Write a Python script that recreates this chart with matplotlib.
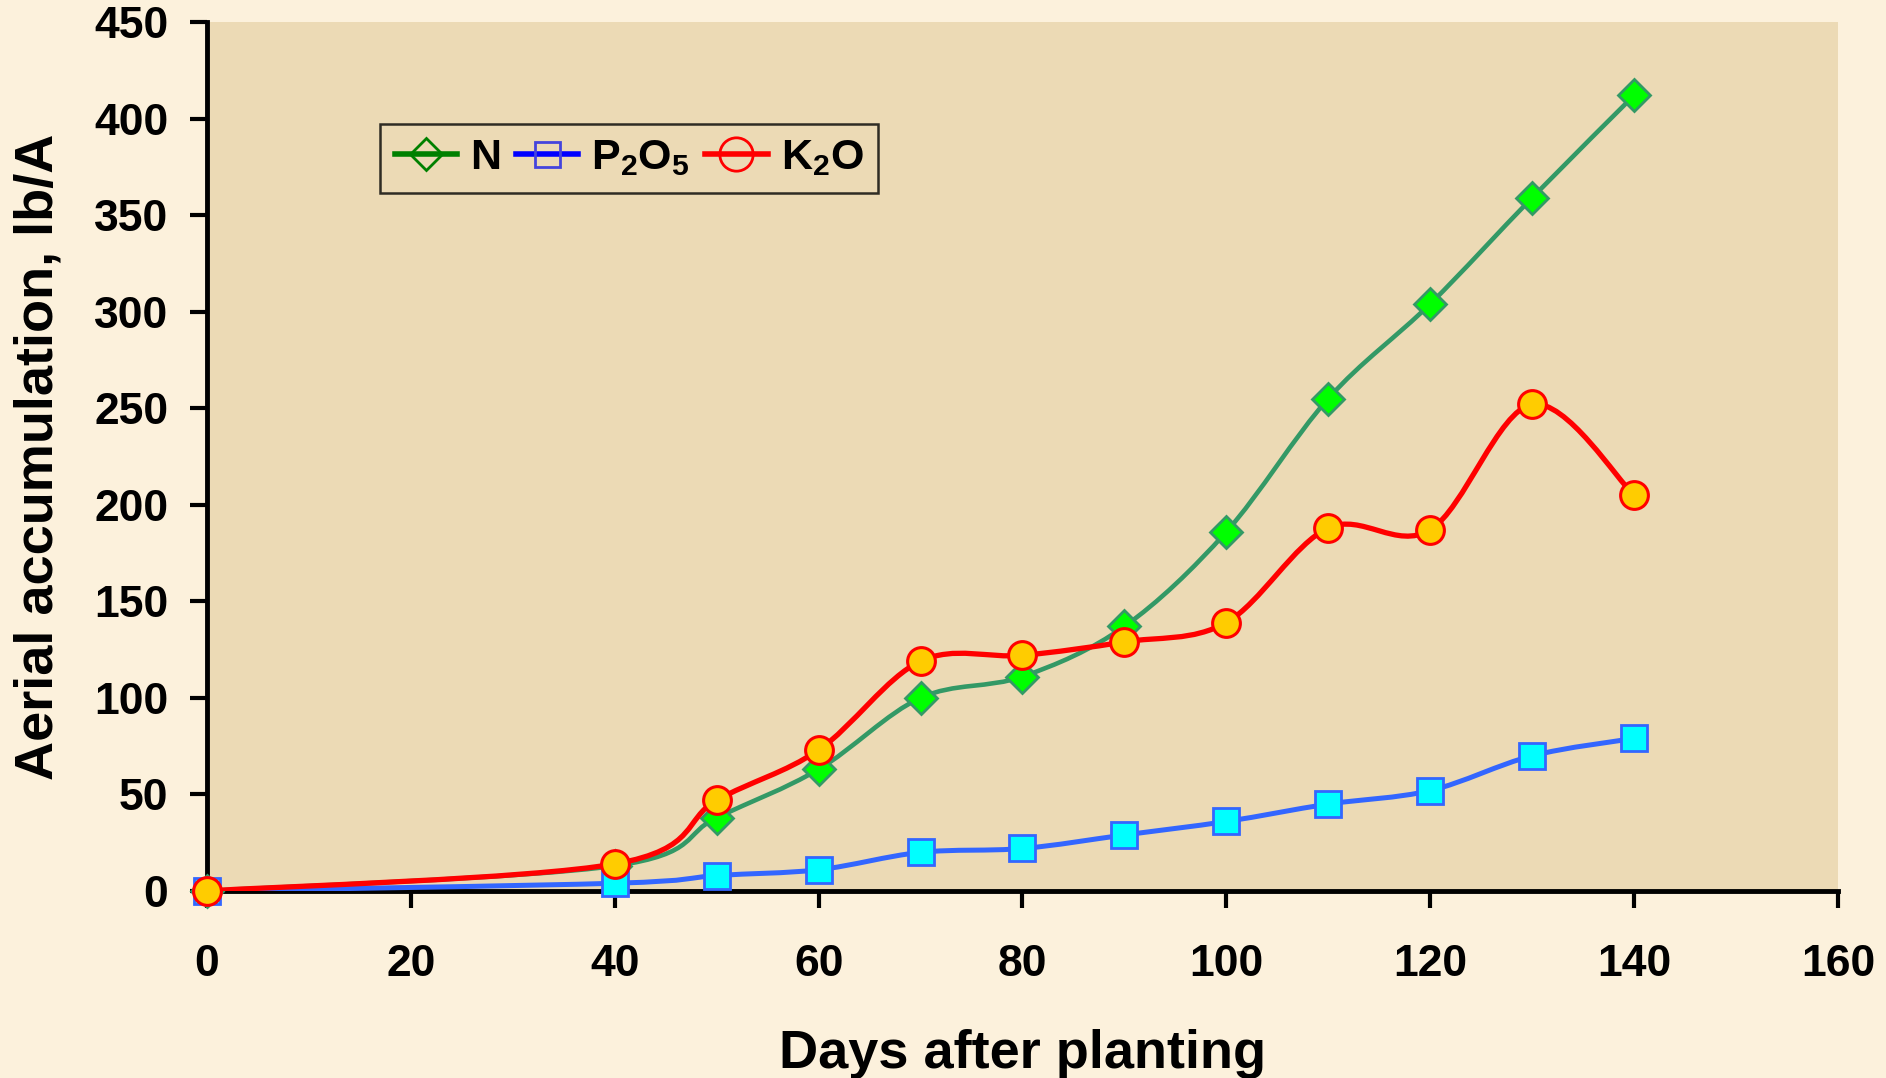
import matplotlib
matplotlib.use("Agg")
import matplotlib.pyplot as plt
from matplotlib.path import Path
from matplotlib.patches import PathPatch
from matplotlib.lines import Line2D
import numpy as np

plt.rcParams['font.family'] = ['Liberation Sans', 'DejaVu Sans']
plt.rcParams['font.weight'] = 'bold'
plt.rcParams['mathtext.fontset'] = 'custom'
plt.rcParams['mathtext.rm'] = 'Liberation Sans:bold'
plt.rcParams['mathtext.bf'] = 'Liberation Sans:bold'
plt.rcParams['mathtext.default'] = 'rm'

## donnees
jours = [0, 40, 50, 60, 70, 80, 90, 100, 110, 120, 130, 140]
azote = [0, 13, 38, 63, 100, 111, 137, 186, 255, 304, 359, 412]
phosphore = [0, 4, 8, 11, 20, 22, 29, 36, 45, 52, 70, 79]
potasse = [0, 14, 47, 73, 119, 122, 129, 139, 188, 187, 252, 205]

noms = ['N', r'P$_2$O$_5$', r'K$_2$O']
xticks = [0, 20, 40, 60, 80, 100, 120, 140, 160]
yticks = [0, 50, 100, 150, 200, 250, 300, 350, 400, 450]

fond_ext = '#fcf1dc'
fond_int = '#ecdab5'


def courbe_lisse(ax, x, y, couleur, lw, z):
    # courbe de Bezier passant par les points (lissage facon tableur)
    pts = np.column_stack([x, y]).astype(float)
    n = len(pts)
    verts = [pts[0]]
    codes = [Path.MOVETO]
    for i in range(n - 1):
        p0 = pts[i - 1] if i > 0 else pts[i]
        p1 = pts[i]
        p2 = pts[i + 1]
        p3 = pts[i + 2] if i + 2 < n else pts[i + 1]
        c1 = p1 + (p2 - p0) / 6
        c2 = p2 - (p3 - p1) / 6
        verts += [c1, c2, p2]
        codes += [Path.CURVE4] * 3
    patch = PathPatch(Path(verts, codes), facecolor='none', edgecolor=couleur,
                      lw=lw, zorder=z, capstyle='round', joinstyle='round')
    ax.add_patch(patch)


fig = plt.figure(figsize=(18.86, 10.78), dpi=100)
fig.patch.set_facecolor(fond_ext)
ax = fig.add_axes([0.1098, 0.1735, 0.8647, 0.8061])
ax.set_facecolor(fond_int)

courbe_lisse(ax, jours, azote, '#339966', 3.3, 2)
ax.plot(jours, azote, ls='none', marker='D', ms=16, mfc='#00ff00', mec='#339966',
        mew=2, zorder=3, clip_on=False)

courbe_lisse(ax, jours, phosphore, '#3366ff', 3.6, 4)
ax.plot(jours, phosphore, ls='none', marker='s', ms=19, mfc='#00ffff', mec='#3366ff',
        mew=2, zorder=5, clip_on=False)

courbe_lisse(ax, jours, potasse, '#ff0000', 3.8, 6)
ax.plot(jours, potasse, ls='none', marker='o', ms=20, mfc='#ffcc00', mec='#ff0000',
        mew=2.2, zorder=7, clip_on=False)

ax.set_xlim(0, 160)
ax.set_ylim(0, 450)
ax.set_xticks(xticks)
ax.set_yticks(yticks)
ax.tick_params(axis='both', direction='out', length=12, width=3, labelsize=32)
ax.tick_params(axis='x', pad=26)
ax.tick_params(axis='y', pad=16)
for s in ['top', 'right']:
    ax.spines[s].set_visible(False)
for s in ['left', 'bottom']:
    ax.spines[s].set_linewidth(3.5)

ax.set_xlabel("Days after planting", fontsize=39, fontweight='bold', labelpad=32)
ax.set_ylabel("Aerial accumulation, lb/A", fontsize=39, fontweight='bold', labelpad=22)

poignees = [
    Line2D([], [], color='#008000', lw=4, marker='D', ms=16, mfc='none', mec='#008000', mew=2),
    Line2D([], [], color='#0000ff', lw=4, marker='s', ms=18, mfc='none', mec='#4444dd', mew=2),
    Line2D([], [], color='#ff0000', lw=4, marker='o', ms=24, mfc='none', mec='#ff0000', mew=2),
]
leg = ax.legend(poignees, noms, loc='upper left', bbox_to_anchor=(0.106, 0.883),
                ncol=3, fontsize=31, frameon=True, fancybox=False, handlelength=1.45,
                handletextpad=0.3, columnspacing=0.35, borderpad=0.34, borderaxespad=0)
leg.get_frame().set_edgecolor('black')
leg.get_frame().set_linewidth(1.8)
leg.get_frame().set_facecolor('none')

fig.savefig("out.png", dpi=100, facecolor=fond_ext)
